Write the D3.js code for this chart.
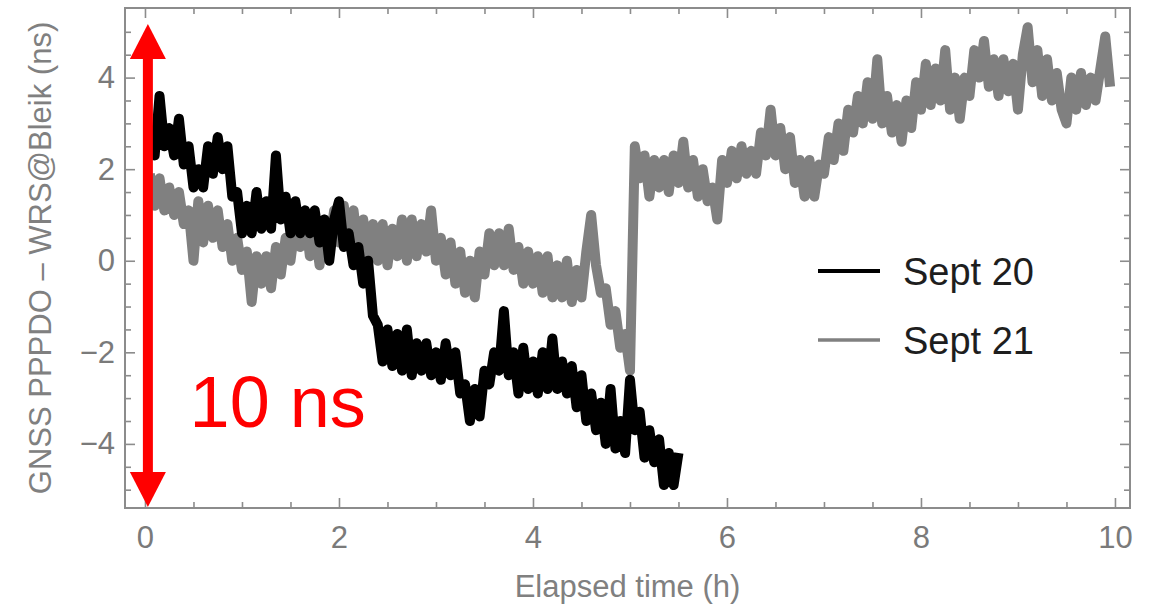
<!DOCTYPE html>
<html>
<head>
<meta charset="utf-8">
<style>
  body { margin: 0; background: #fff; }
  svg { display: block; font-family: "Liberation Sans", Arial, sans-serif; }
  .frame { fill: none; stroke: #8c8c8c; stroke-width: 2; }
  .axis .domain { display: none; }
  .axis line { stroke: #8c8c8c; stroke-width: 1.6; }
  .axis text { fill: #7a7a7a; font-size: 31px; font-family: "Liberation Sans", Arial, sans-serif; }
  .axislabel { fill: #808080; font-size: 31px; }
  .legend text { fill: #1e1e1e; font-size: 38px; }
</style>
</head>
<body>
<svg width="1158" height="610"></svg>
<script src="https://cdn.jsdelivr.net/npm/d3@7"></script>
<script>
// samples every dt hours, first one at t0
var t0 = 0.05, dt = 0.05;

var series = ["Sept 20", "Sept 21"];
var colors = ["#000000", "#808080"];

var sept20 = [
  2.9, 2.3, 3.6, 2.5, 2.9, 2.3, 3.1, 2.1, 2.5, 1.6, 2.0, 1.6, 2.5, 1.9, 2.7, 2.0, 2.5, 1.4, 1.5, 0.6,
  1.2, 0.6, 1.5, 0.7, 1.3, 0.7, 2.3, 0.9, 1.4, 0.6, 1.3, 0.6, 1.1, 0.6, 1.1, 0.4, 0.9, 0.0, 0.9, 1.3,
  0.3, 0.6, -0.1, 0.3, -0.5, 0.0, -1.2, -1.4, -2.2, -1.5, -2.3, -1.6, -2.4, -1.5, -2.5, -1.8, -2.4, -1.8, -2.5, -2.0,
  -2.6, -1.8, -2.5, -2.0, -2.9, -2.7, -3.5, -2.8, -3.4, -2.4, -2.7, -2.0, -2.4, -1.1, -2.5, -2.0, -2.9, -1.9, -2.8, -2.2,
  -2.9, -2.0, -2.8, -1.7, -2.8, -2.2, -2.9, -2.3, -3.2, -2.5, -3.5, -2.9, -3.7, -3.1, -4.0, -2.8, -4.1, -3.5, -4.2, -2.6,
  -3.7, -3.3, -4.3, -3.7, -4.4, -3.9, -4.9, -4.2, -4.9, -4.2
];

var sept21 = [
  1.9, 1.2, 1.8, 1.1, 1.6, 1.0, 1.5, 0.8, 1.1, 0.0, 1.3, 0.4, 1.2, 0.5, 1.1, 0.3, 0.8, 0.0, 0.5, -0.2,
  0.2, -0.9, 0.1, -0.5, 0.1, -0.6, 0.3, -0.3, 0.5, 0.0, 0.8, 0.3, 1.0, 0.1, 0.7, -0.1, 0.9, 0.3, 1.1, 0.4,
  1.2, 0.4, 1.1, 0.2, 0.9, 0.1, 0.8, 0.0, 0.8, -0.1, 0.7, 0.1, 0.9, 0.0, 0.9, 0.1, 0.8, 0.2, 1.1, 0.0,
  0.5, -0.3, 0.4, -0.5, 0.2, -0.7, 0.0, -0.8, 0.2, -0.3, 0.6, -0.1, 0.6, -0.1, 0.7, -0.2, 0.3, -0.5, 0.2, -0.5,
  0.1, -0.7, 0.1, -0.8, -0.1, -0.8, 0.0, -0.9, -0.2, -0.8, 0.2, 1.0, -0.1, -0.7, -0.6, -1.4, -1.1, -1.9, -1.6, -2.4,
  2.5, 1.8, 2.3, 1.4, 2.2, 1.6, 2.2, 1.5, 2.3, 1.7, 2.6, 1.6, 2.2, 1.4, 2.0, 1.3, 1.6, 0.9, 2.2, 1.7,
  2.4, 1.8, 2.5, 1.9, 2.4, 1.9, 2.8, 2.3, 3.3, 2.3, 2.9, 2.0, 2.7, 1.7, 2.2, 1.4, 2.2, 1.4, 2.1, 1.9,
  2.7, 2.2, 3.0, 2.4, 3.3, 2.8, 3.6, 3.0, 3.9, 3.1, 4.4, 3.0, 3.6, 2.8, 3.4, 2.6, 3.5, 2.9, 3.9, 3.3,
  4.3, 3.4, 4.2, 3.5, 4.6, 3.3, 4.0, 3.1, 4.0, 3.6, 4.6, 4.0, 4.8, 3.8, 4.4, 3.6, 4.4, 3.7, 4.3, 3.3,
  4.5, 5.1, 3.9, 4.6, 3.6, 4.4, 3.5, 4.1, 3.3, 3.0, 4.0, 3.3, 4.1, 3.4, 4.0, 3.5, 4.2, 4.9, 3.8
];

var xTicks = [0, 2, 4, 6, 8, 10];
var yTicks = [-4, -2, 0, 2, 4];

// red annotation: arrow at t = 0.03 spanning 10 ns
var arrowAt = 0.03, arrowEnds = [5.17, -5.38];
var noteText = "10 ns", noteAt = [0.46, -3.63];

var svg = d3.select("svg"),
    margin = {top: 8, right: 28, bottom: 102, left: 125},
    width = +svg.attr("width") - margin.left - margin.right,
    height = +svg.attr("height") - margin.top - margin.bottom;

svg.append("rect").attr("width", 1158).attr("height", 610).attr("fill", "#fff");

var g = svg.append("g").attr("transform", "translate(" + margin.left + "," + margin.top + ")");

var x = d3.scaleLinear().domain([-0.206, 10.155]).range([0, width]);
var y = d3.scaleLinear().domain([-5.40, 5.52]).range([height, 0]);

var xMinor = x.ticks(20).filter(function(d) { return xTicks.indexOf(d) < 0; });
var yMinor = y.ticks(20).filter(function(d) { return yTicks.indexOf(d) < 0 && Math.abs(d) <= 5; });

g.append("clipPath").attr("id", "clip")
  .append("rect").attr("width", width).attr("height", height);

// traces, thick stroke so the noisy samples merge into a band
var line = d3.line()
    .x(function(d, i) { return x(t0 + i * dt); })
    .y(function(d) { return y(d); });

var traces = g.append("g").attr("clip-path", "url(#clip)");
[sept21, sept20].forEach(function(vals, k) {
  traces.append("path")
    .datum(vals)
    .attr("fill", "none")
    .attr("stroke", colors[1 - k])
    .attr("stroke-width", 10)
    .attr("stroke-linejoin", "round")
    .attr("d", line);
});

// frame with inward ticks on all sides
g.append("g").attr("class", "axis")
  .attr("transform", "translate(0," + height + ")")
  .call(d3.axisBottom(x).tickValues(xTicks).tickSize(-10).tickPadding(18));
g.append("g").attr("class", "axis")
  .attr("transform", "translate(0," + height + ")")
  .call(d3.axisBottom(x).tickValues(xMinor).tickSize(-6).tickFormat(""));
g.append("g").attr("class", "axis")
  .call(d3.axisTop(x).tickValues(xTicks).tickSize(-10).tickFormat(""));
g.append("g").attr("class", "axis")
  .call(d3.axisTop(x).tickValues(xMinor).tickSize(-6).tickFormat(""));

g.append("g").attr("class", "axis")
  .call(d3.axisLeft(y).tickValues(yTicks).tickSize(-10).tickPadding(10));
g.append("g").attr("class", "axis")
  .call(d3.axisLeft(y).tickValues(yMinor).tickSize(-6).tickFormat(""));
g.append("g").attr("class", "axis")
  .attr("transform", "translate(" + width + ",0)")
  .call(d3.axisRight(y).tickValues(yTicks).tickSize(-10).tickFormat(""));
g.append("g").attr("class", "axis")
  .attr("transform", "translate(" + width + ",0)")
  .call(d3.axisRight(y).tickValues(yMinor).tickSize(-6).tickFormat(""));

g.append("rect").attr("class", "frame")
  .attr("width", width).attr("height", height);

// axis titles
g.append("text").attr("class", "axislabel")
  .attr("x", width / 2).attr("y", height + 89)
  .attr("text-anchor", "middle")
  .text("Elapsed time (h)");

g.append("text").attr("class", "axislabel")
  .attr("transform", "translate(" + (-74) + "," + (height / 2) + ") rotate(-90)")
  .attr("text-anchor", "middle")
  .text("GNSS PPPDO \u2013 WRS@Bleik (ns)");

// legend
var legend = g.append("g").attr("class", "legend")
  .attr("transform", "translate(693,263)")
  .selectAll("g")
  .data(series)
  .enter().append("g")
    .attr("transform", function(d, i) { return "translate(0," + i * 69 + ")"; });

legend.append("line")
  .attr("x1", 0).attr("x2", 62)
  .attr("stroke", function(d, i) { return colors[i]; })
  .attr("stroke-width", function(d, i) { return i ? 3.5 : 4; });

legend.append("text")
  .attr("x", 85).attr("dy", "0.36em")
  .text(function(d) { return d; });

// red 10 ns arrow
var ax = x(arrowAt), yTop = y(arrowEnds[0]), yBot = y(arrowEnds[1]), headLen = 35, headHalf = 18;
var note = g.append("g").attr("fill", "#ff0000");
note.append("line")
  .attr("x1", ax).attr("x2", ax)
  .attr("y1", yTop + headLen - 2).attr("y2", yBot - headLen + 2)
  .attr("stroke", "#ff0000").attr("stroke-width", 10);
note.append("path")
  .attr("d", "M" + ax + "," + yTop + "L" + (ax + headHalf) + "," + (yTop + headLen) + "L" + (ax - headHalf) + "," + (yTop + headLen) + "Z");
note.append("path")
  .attr("d", "M" + ax + "," + yBot + "L" + (ax + headHalf) + "," + (yBot - headLen) + "L" + (ax - headHalf) + "," + (yBot - headLen) + "Z");
note.append("text")
  .attr("x", x(noteAt[0])).attr("y", y(noteAt[1]))
  .attr("font-size", 72)
  .text(noteText);
</script>
</body>
</html>
